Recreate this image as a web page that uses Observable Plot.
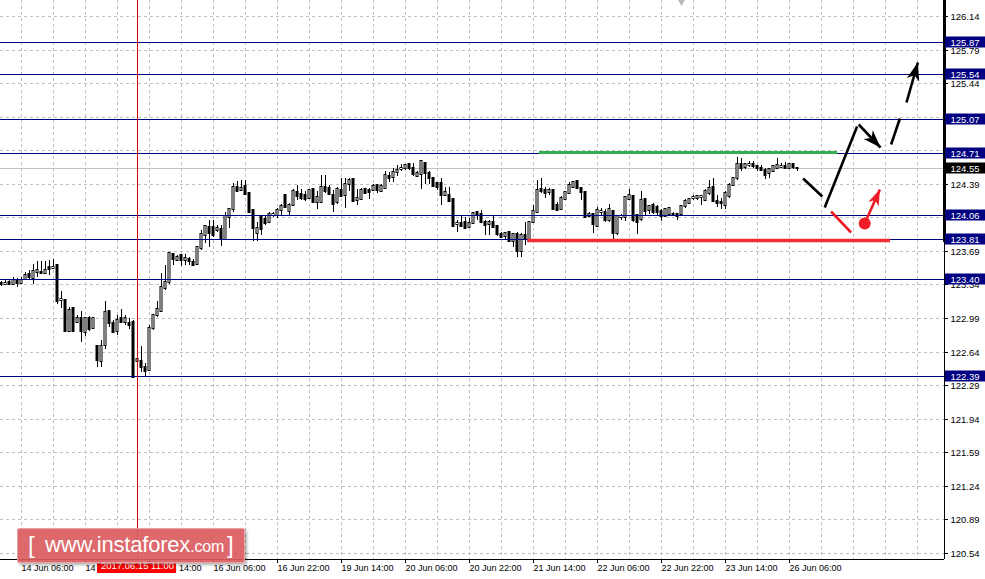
<!DOCTYPE html>
<html>
<head>
<meta charset="utf-8">
<script src="https://cdn.jsdelivr.net/npm/d3@7"></script>
<script src="https://cdn.jsdelivr.net/npm/@observablehq/plot@0.6"></script>
<style>
  html, body { margin: 0; padding: 0; background: #fff; }
  #wrap { position: relative; width: 985px; height: 579px; overflow: hidden; }
  #wm { position: absolute; left: 17px; top: 528px; width: 226px; height: 33px;
        background: rgba(218, 92, 95, 0.92); border: 1px solid #eaa3a5; border-radius: 2px;
        box-shadow: 2px 2px 3px rgba(0,0,0,0.3); color: #fff;
        font-family: "Liberation Sans", Arial, sans-serif; white-space: nowrap; }
  #wm .br { position: absolute; top: 2px; font-size: 24px; font-weight: 300; }
  #wm .main { position: absolute; left: 27px; top: 3px; font-size: 22px; letter-spacing: -0.2px; }
  #wm .com { font-size: 16px; }
</style>
</head>
<body>
<div id="wrap"><div id="chart"></div>
  <div id="wm"><span class="br" style="left:10px">[</span><span class="main">www.instaforex<span class="com">.com</span></span><span class="br" style="left:209px">]</span></div>
</div>
<script>
// ---------- data: H1 candles, bar index 0 = 14 Jun 01:00 ----------
const opens = [123.36,123.34,123.37,123.35,123.39,123.36,123.40,123.45,123.41,123.47,
123.47,123.46,123.52,123.51,123.54,123.18,123.18,122.85,123.09,122.95,
122.99,122.84,122.99,122.89,122.70,122.54,122.71,123.06,122.94,122.85,
122.99,122.95,122.94,122.95,122.54,122.54,122.48,122.45,122.89,123.02,
123.06,123.30,123.37,123.66,123.60,123.65,123.60,123.61,123.57,123.55,
123.72,123.86,123.94,123.94,123.91,123.92,123.81,124.04,124.13,124.36,
124.33,124.37,124.29,124.12,123.88,124.05,124.02,123.99,124.06,124.06,
124.12,124.27,124.11,124.17,124.30,124.28,124.27,124.24,124.34,124.20,
124.20,124.36,124.35,124.27,124.20,124.33,124.27,124.39,124.44,124.22,
124.23,124.34,124.33,124.33,124.38,124.31,124.35,124.47,124.46,124.51,
124.54,124.55,124.60,124.55,124.47,124.49,124.61,124.50,124.45,124.40,
124.40,124.27,124.27,124.23,123.97,123.98,123.99,123.94,123.98,124.10,
124.08,123.99,123.97,123.99,123.95,123.87,123.85,123.89,123.79,123.87,
123.69,123.86,123.79,123.99,124.10,124.34,124.33,124.30,124.33,124.17,
124.13,124.23,124.29,124.36,124.42,124.35,124.30,124.05,124.07,123.95,
124.10,124.10,124.01,124.11,123.88,124.04,124.04,124.23,124.26,124.06,
124.02,124.23,124.12,124.17,124.15,124.11,124.05,124.08,124.08,124.08,
124.08,124.16,124.19,124.24,124.24,124.25,124.22,124.29,124.36,124.21,
124.20,124.17,124.26,124.38,124.45,124.60,124.57,124.59,124.60,124.58,
124.56,124.53,124.50,124.52,124.56,124.57,124.58,124.56,124.60,124.56];
const highs = [123.38,123.39,123.40,123.42,123.41,123.42,123.47,123.49,123.55,123.58,
123.59,123.59,123.60,123.61,123.54,123.27,123.18,123.11,123.11,123.02,
123.06,123.00,123.01,123.00,122.70,122.76,123.17,123.07,122.97,123.02,
123.08,123.02,122.99,122.97,122.66,122.70,122.52,122.92,123.02,123.17,
123.46,123.54,123.68,123.67,123.65,123.66,123.66,123.63,123.61,123.73,
123.91,123.95,124.01,124.01,123.96,123.96,124.10,124.14,124.40,124.42,
124.43,124.43,124.30,124.13,123.99,124.06,124.06,124.10,124.10,124.14,
124.18,124.27,124.19,124.34,124.38,124.34,124.32,124.34,124.35,124.31,
124.48,124.48,124.38,124.33,124.36,124.45,124.45,124.45,124.45,124.34,
124.35,124.35,124.35,124.39,124.39,124.39,124.52,124.51,124.56,124.59,
124.60,124.60,124.61,124.61,124.52,124.63,124.62,124.52,124.46,124.41,
124.45,124.36,124.36,124.24,124.01,124.05,124.04,124.03,124.10,124.11,
124.12,124.01,124.01,124.06,123.96,123.89,123.89,123.90,123.87,123.89,
123.88,123.99,124.00,124.17,124.43,124.45,124.36,124.35,124.34,124.20,
124.26,124.31,124.41,124.42,124.43,124.36,124.31,124.10,124.08,124.15,
124.14,124.13,124.18,124.12,124.06,124.08,124.26,124.34,124.27,124.08,
124.31,124.24,124.17,124.19,124.17,124.13,124.14,124.15,124.10,124.09,
124.17,124.23,124.24,124.27,124.27,124.27,124.34,124.43,124.45,124.27,
124.24,124.31,124.40,124.46,124.67,124.66,124.61,124.63,124.63,124.59,
124.59,124.56,124.55,124.59,124.66,124.61,124.62,124.61,124.61,124.57];
const lows = [123.32,123.33,123.34,123.33,123.31,123.35,123.39,123.39,123.35,123.42,
123.45,123.45,123.44,123.50,123.14,123.09,122.85,122.85,122.85,122.94,
122.74,122.80,122.85,122.88,122.48,122.48,122.67,122.90,122.83,122.81,
122.94,122.92,122.88,122.37,122.38,122.43,122.38,122.44,122.87,123.00,
123.05,123.28,123.35,123.54,123.58,123.53,123.54,123.54,123.53,123.54,
123.70,123.77,123.73,123.84,123.89,123.74,123.80,123.93,124.10,124.31,
124.31,124.27,124.09,123.79,123.79,123.86,123.96,123.98,124.04,124.03,
124.06,124.14,124.06,124.16,124.22,124.22,124.21,124.23,124.19,124.13,
124.19,124.29,124.27,124.10,124.18,124.25,124.14,124.31,124.20,124.17,
124.22,124.28,124.23,124.31,124.29,124.30,124.34,124.41,124.41,124.47,
124.52,124.53,124.53,124.47,124.46,124.34,124.39,124.39,124.36,124.33,
124.17,124.26,124.20,123.94,123.89,123.94,123.92,123.93,123.97,124.01,
123.98,123.86,123.86,123.93,123.85,123.82,123.81,123.78,123.73,123.63,
123.63,123.75,123.78,123.98,124.09,124.29,124.24,124.27,124.12,124.11,
124.12,124.22,124.28,124.35,124.34,124.22,124.03,124.04,123.88,123.94,
124.05,123.99,123.99,123.81,123.86,124.01,124.00,124.22,123.99,123.87,
124.00,124.06,124.08,124.08,124.05,124.00,124.04,124.06,124.05,124.01,
124.06,124.14,124.18,124.22,124.22,124.17,124.21,124.27,124.20,124.15,
124.13,124.13,124.24,124.37,124.43,124.52,124.54,124.57,124.55,124.52,
124.52,124.44,124.45,124.51,124.55,124.56,124.54,124.55,124.54,124.52];
const closes = [123.34,123.36,123.35,123.39,123.36,123.39,123.44,123.42,123.48,123.49,
123.46,123.49,123.50,123.52,123.17,123.19,122.86,123.07,122.86,122.99,
122.85,122.99,122.88,122.99,122.55,122.70,123.05,122.94,122.84,122.97,
122.95,122.99,122.92,122.38,122.56,122.48,122.44,122.89,123.02,123.08,
123.31,123.37,123.67,123.61,123.63,123.60,123.62,123.58,123.54,123.73,
123.87,123.95,123.88,123.86,123.93,123.83,124.05,124.13,124.36,124.32,
124.35,124.28,124.10,123.93,123.93,123.92,123.98,124.08,124.07,124.12,
124.16,124.15,124.17,124.31,124.26,124.24,124.23,124.33,124.20,124.25,
124.36,124.32,124.28,124.18,124.34,124.26,124.39,124.43,124.21,124.24,
124.33,124.29,124.30,124.37,124.33,124.37,124.48,124.45,124.51,124.53,
124.56,124.59,124.55,124.49,124.50,124.63,124.50,124.45,124.37,124.36,
124.27,124.30,124.21,123.95,123.98,123.95,123.93,123.98,124.09,124.06,
123.99,123.96,123.99,123.94,123.87,123.84,123.88,123.79,123.87,123.69,
123.86,123.81,123.99,124.11,124.33,124.31,124.29,124.33,124.13,124.12,
124.24,124.30,124.38,124.41,124.35,124.30,124.04,124.07,123.97,124.12,
124.11,124.01,124.13,123.88,124.05,124.05,124.25,124.27,124.01,123.99,
124.22,124.11,124.16,124.10,124.10,124.05,124.13,124.14,124.06,124.05,
124.16,124.21,124.23,124.25,124.26,124.26,124.31,124.35,124.21,124.19,
124.19,124.29,124.38,124.45,124.60,124.55,124.60,124.60,124.58,124.55,
124.53,124.48,124.54,124.58,124.59,124.58,124.55,124.60,124.57,124.55];

// ---------- axes ----------
const yTicks = [126.14,125.79,125.44,125.09,124.74,124.39,124.04,123.69,123.34,122.99,122.64,122.29,121.94,121.59,121.24,120.89,120.54];
const yHiddenLabels = [125.09,124.74,124.04];
const timeIdx = [5,21,37,53,69,85,101,117,133,149,165,181,197];
const timeLabels = ["14 Jun 06:00","14 Jun 22:00","15 Jun 14:00","16 Jun 06:00","16 Jun 22:00","19 Jun 14:00","20 Jun 06:00","20 Jun 22:00","21 Jun 14:00","22 Jun 06:00","22 Jun 22:00","23 Jun 14:00","26 Jun 06:00"];
const gridIdx = [5,13,21,29,37,45,53,61,69,77,85,93,101,109,117,125,133,141,149,157,165,173,181,189,197,205,213,221,229];
const xDomain = [-0.25, 235.75];
const yDomain = [120.477, 126.307];

// ---------- levels & annotations ----------
const levels = [125.87,125.54,125.07,124.71,124.06,123.81,123.40,122.39];
const bid = 124.55;
const crossIdx = 34, crossLabel = "2017.06.15 11:00";
const greenLine = {from: 134.5, to: 209, price: 124.725};
const redLine = {from: 131.6, to: 222.25, price: 123.80};
const blackX1 = [200.4, 205.8, 214.3, 222.4, 226.25];
const blackY1 = [124.45, 124.15, 125.01, 124.81, 125.24];
const blackX2 = [205.2, 213.9, 219.75, 224.6, 229.1];
const blackY2 = [124.26, 124.99, 124.77, 125.08, 125.66];
const blackHeads = [2, 4];
const redX1 = [207.4, 215.8], redY1 = [124.11, 123.98];
const redX2 = [212.4, 219.6], redY2 = [123.89, 124.34];
const redHeads = [1];
const redDot = {x: 215.8, y: 123.98};
const shiftMarkIdx = 170;
const rangeBarLow = 123.78;

// ---------- build ----------
const W = 985, H = 579, mR = 41, mB = 20;
const bars = opens.map((o, i) => ({i, o, h: highs[i], l: lows[i], c: closes[i], up: closes[i] >= o}));
const xs = d3.scaleLinear(xDomain, [0, W - mR]);
const ys = d3.scaleLinear(yDomain, [H - mB, 0]);
function heading(x1, y1, x2, y2) {
  const dx = xs(x2) - xs(x1), dy = ys(y2) - ys(y1);
  return Math.atan2(dx, -dy) * 180 / Math.PI;
}
const arrowHead = {
  draw(ctx, size) {
    const s = Math.sqrt(size / Math.PI);
    ctx.moveTo(0, 0);
    ctx.lineTo(-0.75 * s, 2.1 * s);
    ctx.lineTo(0, 1.55 * s);
    ctx.lineTo(0.75 * s, 2.1 * s);
    ctx.closePath();
  }
};
const blackSegs = blackX1.map((x, k) => ({x1: x, y1: blackY1[k], x2: blackX2[k], y2: blackY2[k]}));
const redSegs = redX1.map((x, k) => ({x1: x, y1: redY1[k], x2: redX2[k], y2: redY2[k]}));
const blackTips = blackHeads.map(k => ({x: blackX2[k], y: blackY2[k], a: heading(blackX1[k], blackY1[k], blackX2[k], blackY2[k])}));
const redTips = redHeads.map(k => ({x: redX2[k], y: redY2[k], a: heading(redX1[k], redY1[k], redX2[k], redY2[k])}));
const labelFont = '"Liberation Sans", Arial, sans-serif';
const rightX1 = xDomain[1] + 0.25, rightX2 = xDomain[1] + 10.5;

const chart = Plot.plot({
  width: W, height: H,
  marginLeft: 0, marginTop: 0, marginRight: mR, marginBottom: mB,
  x: {domain: xDomain, axis: null},
  y: {domain: yDomain, axis: null, round: true},
  style: {fontFamily: labelFont, fontSize: "9px", background: "white", color: "black", overflow: "visible"},
  marks: [
    Plot.ruleY(yTicks, {stroke: "#c0c0c0", strokeDasharray: "3,3"}),
    Plot.ruleX(gridIdx, {stroke: "#c0c0c0", strokeDasharray: "3,3"}),
    Plot.ruleY([bid], {stroke: "#c0c0c0"}),
    // candles
    Plot.ruleX(bars, {x: "i", y1: "l", y2: "h", stroke: "black"}),
    Plot.rect(bars, {x1: d => d.i - 0.25, x2: d => d.i + 0.25, y1: "o", y2: "c",
      fill: d => d.up ? "white" : "black", stroke: "black", strokeWidth: 1, insetTop: -0.5, insetBottom: -0.5}),
    // horizontal levels
    Plot.ruleY(levels, {stroke: "#000080"}),
    Plot.ruleY([greenLine], {y: "price", x1: "from", x2: "to", stroke: "#35ad55", strokeWidth: 3}),
    Plot.ruleY([redLine], {y: "price", x1: "from", x2: "to", stroke: "#ef2f35", strokeWidth: 3.5}),
    // crosshair
    Plot.ruleX([crossIdx], {stroke: "#d00000"}),
    // forecast annotations
    Plot.link(blackSegs, {x1: "x1", y1: "y1", x2: "x2", y2: "y2", stroke: "black", strokeWidth: 2.6}),
    Plot.link(redSegs, {x1: "x1", y1: "y1", x2: "x2", y2: "y2", stroke: "#ee1c25", strokeWidth: 2.6}),
    Plot.dot([redDot], {x: "x", y: "y", r: 6, fill: "#ee1c25"}),
    Plot.dot(blackTips, {x: "x", y: "y", rotate: "a", symbol: arrowHead, r: 8.5, fill: "black"}),
    Plot.dot(redTips, {x: "x", y: "y", rotate: "a", symbol: arrowHead, r: 7.5, fill: "#ee1c25"}),
    // frame lines
    Plot.ruleY([yDomain[0]], {stroke: "black"}),
    Plot.ruleX([xDomain[1]], {stroke: "black"}),
    Plot.ruleX([xDomain[1]], {y1: rangeBarLow, y2: yDomain[1], stroke: "black", strokeWidth: 3}),
    // axes
    Plot.axisY({anchor: "right", ticks: yTicks, tickSize: 3, tickPadding: 3, fontSize: 9.5,
      tickFormat: d => yHiddenLabels.includes(d) ? "" : d.toFixed(2)}),
    Plot.axisX({anchor: "bottom", ticks: timeIdx, tickSize: 4, tickPadding: 1, textAnchor: "start", dx: 0,
      tickFormat: d => timeLabels[timeIdx.indexOf(d)]}),
    // price labels
    Plot.rect(levels, {x1: rightX1, x2: rightX2, y1: d => d, y2: d => d, insetTop: -5.5, insetBottom: -5.5, fill: "#000080"}),
    Plot.text(levels, {x: rightX1, y: d => d, text: d => d.toFixed(2), fill: "white", textAnchor: "start", dx: 5, fontSize: 9.5}),
    Plot.rect([bid], {x1: rightX1, x2: rightX2, y1: d => d, y2: d => d, insetTop: -5.5, insetBottom: -5.5, fill: "black"}),
    Plot.text([bid], {x: rightX1, y: d => d, text: d => d.toFixed(2), fill: "white", textAnchor: "start", dx: 5, fontSize: 9.5}),
    // crosshair time label
    Plot.rect([crossIdx], {x1: d => d - 10, x2: d => d + 9.75, y1: yDomain[0], y2: yDomain[0], insetTop: 4.5, insetBottom: -14, fill: "#ff0000"}),
    Plot.text([crossLabel], {x: crossIdx, frameAnchor: "bottom", dy: 9.5, text: d => d, fill: "white", textAnchor: "middle", fontSize: 9.5}),
    // chart shift marker
    Plot.dot([shiftMarkIdx], {x: d => d, frameAnchor: "top", symbol: "triangle", rotate: 180, r: 3.5, fill: "#b8b8b8"})
  ]
});
document.getElementById("chart").appendChild(chart);
</script>
</body>
</html>
